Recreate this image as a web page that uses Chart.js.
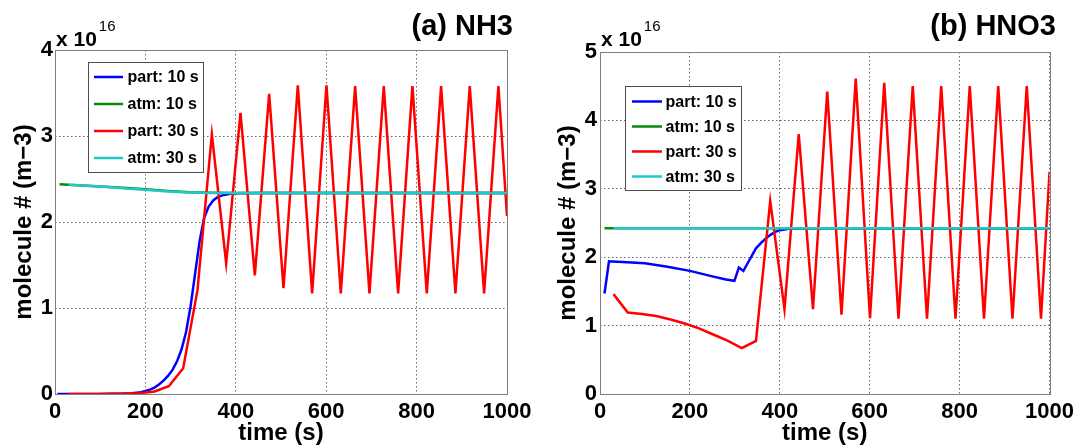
<!DOCTYPE html>
<html><head><meta charset="utf-8">
<script src="https://cdn.jsdelivr.net/npm/chart.js@4/dist/chart.umd.min.js"></script>
<style>
html,body{margin:0;padding:0;background:#fff;}
#wrap{position:relative;width:1079px;height:448px;overflow:hidden;}
#ca{position:absolute;left:0;top:0;width:540px;height:448px;}
#cb{position:absolute;left:540px;top:0;width:539px;height:448px;}
</style></head><body>
<div id="wrap"><canvas id="ca" width="540" height="448"></canvas><canvas id="cb" width="539" height="448"></canvas></div>
<script>
// ---------- data ----------
const seriesLabels = ['part: 10 s', 'atm: 10 s', 'part: 30 s', 'atm: 30 s'];
const xTicks = [0, 200, 400, 600, 800, 1000];
const yTicksA = [0, 1, 2, 3, 4];
const yTicksB = [0, 1, 2, 3, 4, 5];

// 30 s output times (s)
const timesSlow = [30, 61.7, 93.4, 125.1, 156.8, 188.5, 220.2, 251.9, 283.6, 315.3, 347, 378.7, 410.4, 442.1, 473.8, 505.5,
  537.2, 568.9, 600.6, 632.3, 664, 695.7, 727.4, 759.1, 790.8, 822.5, 854.2, 885.9, 917.6, 949.3, 981, 1000];

// (a) NH3, values in 1e16 m^-3
const partFastTimesA = [5, 50, 100, 150, 170, 190, 200, 210, 220, 230, 240, 250, 260, 270, 280, 290, 300, 310, 320, 330,
  340, 350, 360, 370, 380, 390, 400, 450, 500, 600, 700, 800, 900, 1000];
const partFastA = [0, 0, 0.001, 0.005, 0.01, 0.02, 0.035, 0.05, 0.075, 0.11, 0.155, 0.21, 0.28, 0.38, 0.52, 0.72, 1.02, 1.4, 1.78, 2.05,
  2.18, 2.25, 2.29, 2.31, 2.32, 2.33, 2.335, 2.338, 2.338, 2.338, 2.338, 2.338, 2.338, 2.338];
const atmFastTimesA = [10, 20, 30, 60, 100, 150, 200, 250, 300, 350, 400, 500, 600, 700, 800, 900, 1000];
const atmFastA = [2.44, 2.437, 2.433, 2.425, 2.413, 2.397, 2.38, 2.36, 2.345, 2.34, 2.338, 2.338, 2.338, 2.338, 2.338, 2.338, 2.338];
const partSlowA = [0, 0, 0, 0.002, 0.004, 0.01, 0.03, 0.09, 0.30, 1.21, 3.02, 1.52, 3.27, 1.38, 3.49, 1.23,
  3.59, 1.17, 3.59, 1.17, 3.58, 1.17, 3.58, 1.17, 3.58, 1.17, 3.58, 1.17, 3.58, 1.17, 3.58, 2.07];
const atmSlowA = [2.433, 2.425, 2.415, 2.403, 2.39, 2.378, 2.366, 2.355, 2.346, 2.34, 2.338, 2.338, 2.338, 2.338, 2.338, 2.338,
  2.338, 2.338, 2.338, 2.338, 2.338, 2.338, 2.338, 2.338, 2.338, 2.338, 2.338, 2.338, 2.338, 2.338, 2.338, 2.338];

// (b) HNO3, values in 1e16 m^-3
const partFastTimesB = [10, 20, 50, 100, 150, 200, 250, 280, 299, 309, 319, 330, 340, 347, 360, 370, 380, 390, 400, 420, 440,
  500, 600, 700, 800, 900, 1000];
const partFastB = [1.47, 1.94, 1.93, 1.91, 1.86, 1.80, 1.72, 1.675, 1.655, 1.85, 1.80, 1.93, 2.05, 2.13, 2.22, 2.28, 2.33, 2.37, 2.395, 2.415, 2.42,
  2.425, 2.425, 2.425, 2.425, 2.425, 2.425];
const atmFastTimesB = [10, 20, 30, 100, 200, 300, 400, 500, 600, 700, 800, 900, 1000];
const atmFastB = [2.425, 2.425, 2.425, 2.425, 2.425, 2.425, 2.425, 2.425, 2.425, 2.425, 2.425, 2.425, 2.425];
const partSlowB = [1.46, 1.19, 1.17, 1.14, 1.09, 1.03, 0.96, 0.87, 0.78, 0.67, 0.775, 2.82, 1.24, 3.8, 1.24, 4.42,
  1.16, 4.61, 1.11, 4.55, 1.10, 4.5, 1.1, 4.5, 1.1, 4.5, 1.1, 4.5, 1.1, 4.5, 1.1, 3.25];
const atmSlowB = [2.425, 2.425, 2.425, 2.425, 2.425, 2.425, 2.425, 2.425, 2.425, 2.425, 2.425, 2.425, 2.425, 2.425, 2.425, 2.425,
  2.425, 2.425, 2.425, 2.425, 2.425, 2.425, 2.425, 2.425, 2.425, 2.425, 2.425, 2.425, 2.425, 2.425, 2.425, 2.425];

// ---------- styling ----------
const colors = ['#0000ff', '#0a8a0a', '#ff0000', '#22c8c8'];
const FONT = '"Liberation Sans", Arial, Helvetica, sans-serif';
Chart.defaults.font.family = FONT;
Chart.defaults.color = '#000';

const pts = (xs, ys) => xs.map((x, i) => ({x: x, y: ys[i]}));

const decor = {
  id: 'decor',
  afterDraw(chart, args, o) {
    const ctx = chart.ctx, a = chart.chartArea;
    ctx.save();
    ctx.setLineDash([]);
    ctx.strokeStyle = '#7f7f7f'; ctx.lineWidth = 1;
    const l = Math.round(a.left), t = Math.round(a.top), r = Math.round(a.right), b = Math.round(a.bottom);
    ctx.strokeRect(l + 0.5, t + 0.5, r - l, b - t);
    // panel title
    ctx.fillStyle = '#000';
    ctx.font = 'bold 29px ' + FONT;
    ctx.textAlign = 'right'; ctx.textBaseline = 'alphabetic';
    ctx.fillText(o.title, o.titleRight, 35);
    // exponent
    ctx.textAlign = 'left';
    ctx.font = 'bold 21px ' + FONT;
    ctx.fillText('x 10', a.left + 1, 46);
    const w = ctx.measureText('x 10').width;
    ctx.font = '15px ' + FONT;
    ctx.fillText('16', a.left + 3 + w, 31);
    // legend
    const L = o.legend;
    ctx.fillStyle = '#fff';
    ctx.fillRect(L.x, L.y, L.w, L.h);
    ctx.strokeStyle = '#4d4d4d'; ctx.lineWidth = 1;
    ctx.strokeRect(L.x + 0.5, L.y + 0.5, L.w, L.h);
    ctx.font = 'bold 16px ' + FONT;
    ctx.textBaseline = 'middle';
    chart.data.datasets.forEach((ds, i) => {
      const yy = L.row0 + i * L.dy;
      ctx.strokeStyle = ds.borderColor; ctx.lineWidth = 2.5;
      ctx.beginPath(); ctx.moveTo(L.x0, yy); ctx.lineTo(L.x1, yy); ctx.stroke();
      ctx.fillStyle = '#000';
      ctx.fillText(ds.label, L.tx, yy + 1);
    });
    ctx.restore();
  }
};

function makeChart(id, d, cfg) {
  const datasets = d.map((s, k) => ({
    label: seriesLabels[k], data: s, borderColor: colors[k], backgroundColor: colors[k],
    borderWidth: 2.5, pointRadius: 0, tension: 0, fill: false, order: 4 - k
  }));
  return new Chart(document.getElementById(id), {
    type: 'line',
    data: {datasets: datasets},
    plugins: [decor],
    options: {
      responsive: false, animation: false, devicePixelRatio: 1,
      layout: {padding: {top: cfg.top, right: cfg.right, left: 0, bottom: 0}},
      plugins: {legend: {display: false}, tooltip: {enabled: false}, decor: cfg.decor},
      scales: {
        x: {
          type: 'linear', min: 0, max: 1000,
          afterBuildTicks: s => { s.ticks = xTicks.map(v => ({value: v})); },
          ticks: {font: {size: 22, weight: 'bold'}, padding: 5, maxRotation: 0, autoSkip: false, color: '#000',
                  callback: v => String(v)},
          grid: {color: '#666', lineWidth: 1, drawTicks: false},
          border: {display: false, dash: [1.5, 2.5]},
          title: {display: true, text: 'time (s)', font: {size: 24, weight: 'bold'}, color: '#000', padding: {top: 0, bottom: 0}},
          afterFit: s => { s.height = 54; }
        },
        y: {
          type: 'linear', min: 0, max: cfg.ymax,
          afterBuildTicks: s => { s.ticks = cfg.yTicks.map(v => ({value: v})); },
          ticks: {font: {size: 22, weight: 'bold'}, padding: cfg.ytickPad, color: '#000', callback: v => String(v)},
          grid: {color: '#666', lineWidth: 1, drawTicks: false},
          border: {display: false, dash: [1.5, 2.5]},
          title: {display: true, text: 'molecule # (m\u22123)', font: {size: 24, weight: 'bold'}, color: '#000', padding: {top: cfg.ytitlePad, bottom: 0}},
          afterFit: s => { s.width = cfg.yw; }
        }
      }
    }
  });
}

makeChart('ca', [pts(partFastTimesA, partFastA), pts(atmFastTimesA, atmFastA), pts(timesSlow, partSlowA), pts(timesSlow, atmSlowA)], {
  top: 50, right: 33, ymax: 4, yTicks: yTicksA, yw: 55, ytickPad: 2, ytitlePad: 10,
  decor: {title: '(a) NH3', titleRight: 513, legend: {x: 88, y: 62, w: 115, h: 110, row0: 77, dy: 27, x0: 94, x1: 123, tx: 127.5}}
});
makeChart('cb', [pts(partFastTimesB, partFastB), pts(atmFastTimesB, atmFastB), pts(timesSlow, partSlowB), pts(timesSlow, atmSlowB)], {
  top: 52, right: 28, ymax: 5, yTicks: yTicksB, yw: 60, ytickPad: 3, ytitlePad: 14,
  decor: {title: '(b) HNO3', titleRight: 516, legend: {x: 85, y: 86, w: 116, h: 104, row0: 101.5, dy: 25, x0: 92, x1: 122, tx: 125.5}}
});
</script>
</body></html>
